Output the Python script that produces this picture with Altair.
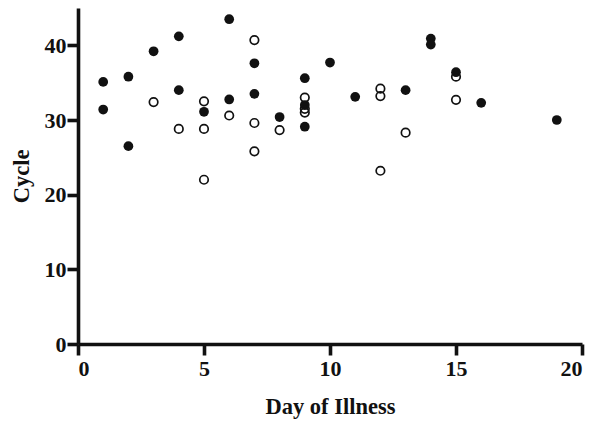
import altair as alt
import pandas as pd

filled_day = [1, 1, 2, 2, 3, 4, 4, 5, 6, 6, 7, 7, 8, 9, 9, 9, 10, 11, 13, 14, 14, 15, 16, 19]
filled_cycle = [35.1, 31.4, 35.8, 26.5, 39.2, 41.2, 34.0, 31.1, 43.5, 32.75, 37.6, 33.5, 30.4,
                35.6, 32.0, 29.1, 37.7, 33.1, 34.0, 40.9, 40.1, 36.4, 32.3, 30.0]

open_day = [3, 4, 5, 5, 5, 6, 7, 7, 7, 8, 9, 9, 9, 12, 12, 12, 13, 15, 15]
open_cycle = [32.4, 28.8, 32.5, 28.8, 22.0, 30.6, 40.7, 29.6, 25.8, 28.65, 33.0, 31.5, 31.0,
              34.2, 33.2, 23.2, 28.3, 35.8, 32.7]

x_ticks = [0, 5, 10, 15, 20]
y_ticks = [0, 10, 20, 30, 40]

df_f = pd.DataFrame({"day": filled_day, "cycle": filled_cycle})
df_o = pd.DataFrame({"day": open_day, "cycle": open_cycle})

FONT = "Liberation Serif"

x_enc = alt.X("day:Q", scale=alt.Scale(domain=[0, 20], nice=False),
              axis=alt.Axis(values=x_ticks, title="Day of Illness", format="d"))
y_enc = alt.Y("cycle:Q", scale=alt.Scale(domain=[0, 45], nice=False),
              axis=alt.Axis(values=y_ticks, title="Cycle", format="d"))

filled = alt.Chart(df_f).mark_circle(color="#111111", opacity=1, size=95).encode(x=x_enc, y=y_enc)
hollow = alt.Chart(df_o).mark_point(shape="circle", filled=False, color="#111111",
                                    strokeWidth=1.7, size=72, opacity=1).encode(x=x_enc, y=y_enc)

chart = (
    alt.layer(filled, hollow)
    .properties(width=504, height=336, autosize=alt.AutoSizeParams(type="none"),
                padding={"left": 70, "top": 0, "right": 10, "bottom": 76})
    .configure_view(stroke=None)
    .configure_axis(
        grid=False,
        domainColor="#111111", domainWidth=3.6,
        tickColor="#111111", tickWidth=3.6, tickSize=11,
        labelFont=FONT, labelFontWeight="bold", labelFontSize=22, labelColor="#111111",
        titleFont=FONT, titleFontWeight="bold", titleFontSize=22.5, titleColor="#111111",
    )
    .configure_axisX(labelPadding=3, titlePadding=16)
    .configure_axisY(labelPadding=1, titlePadding=11)
)

chart.save("out.html", embed_options={"renderer": "svg", "actions": False})
